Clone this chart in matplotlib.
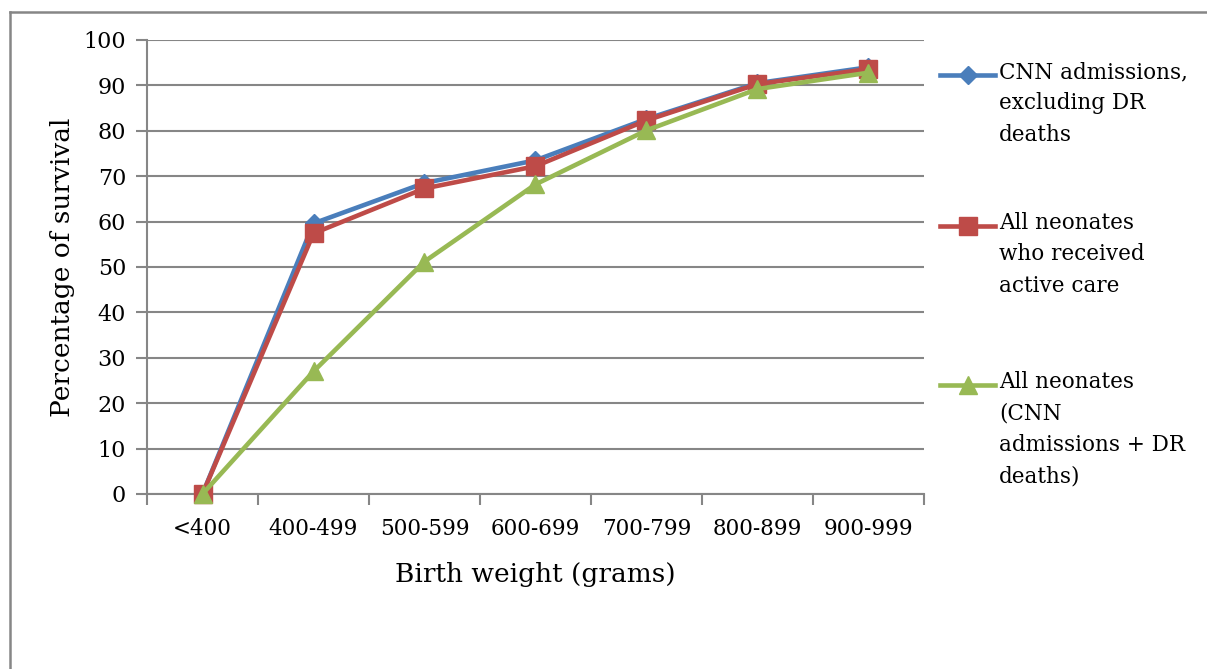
import matplotlib
matplotlib.use("Agg")
import matplotlib.pyplot as plt
from matplotlib.lines import Line2D

categories = ["<400", "400-499", "500-599", "600-699", "700-799", "800-899", "900-999"]
cnn_excl_dr = [0, 59.6, 68.5, 73.5, 82.6, 90.5, 94.0]
active_care = [0, 57.4, 67.3, 72.2, 82.3, 90.3, 93.6]
all_neonates = [0, 27.0, 51.2, 68.2, 80.1, 89.2, 92.8]
labels = ["CNN admissions,\nexcluding DR\ndeaths",
          "All neonates\nwho received\nactive care",
          "All neonates\n(CNN\nadmissions + DR\ndeaths)"]
colors = ["#4A7EBB", "#BE4B48", "#98B954"]
markers = ["D", "s", "^"]
msizes = [9, 13, 13]

plt.rcParams['font.family'] = ['DejaVu Serif']
fig = plt.figure(figsize=(12.07, 6.69), dpi=100)
W, H = 1207, 669
ax = fig.add_axes([147 / W, 1 - 494 / H, (924 - 147) / W, (494 - 40) / H])

x = list(range(len(categories)))
for i, (vals, c, m, ms) in enumerate(zip([cnn_excl_dr, active_care, all_neonates], colors, markers, msizes)):
    ax.plot(x, vals, color=c, lw=3.3, marker=m, markersize=ms, zorder=3 + i, clip_on=False)

ax.set_xlim(-0.5, len(categories) - 0.5)
ax.set_ylim(0, 100)
ax.set_yticks(range(0, 101, 10))
ax.set_xticks(x)
ax.set_xticklabels(categories)
ax.set_xticks([i - 0.5 for i in range(len(categories) + 1)], minor=True)
ax.tick_params(axis='x', which='major', length=0, pad=17, labelsize=15.5)
ax.tick_params(axis='x', which='minor', length=8, width=1.5, color='#868686', direction='out')
ax.tick_params(axis='y', length=8, width=1.5, color='#868686', direction='out', pad=7, labelsize=16)
ax.grid(axis='y', color='#868686', lw=1.5)
ax.set_axisbelow(True)
for s in ['top', 'right']:
    ax.spines[s].set_visible(False)
for s in ['left', 'bottom']:
    ax.spines[s].set_color('#868686')
    ax.spines[s].set_linewidth(1.5)

ax.set_xlabel("Birth weight (grams)", fontsize=19, labelpad=16)
ax.set_ylabel("Percentage of survival", fontsize=19, labelpad=6)

# legend drawn manually
leg_y = [75, 226, 385]
for yy, lab, c, m, ms in zip(leg_y, labels, colors, markers, msizes):
    fy = 1 - yy / H
    fig.add_artist(Line2D([940 / W, 995 / W], [fy, fy], color=c, lw=3.3, transform=fig.transFigure))
    fig.add_artist(Line2D([967.5 / W], [fy], color=c, marker=m, markersize=ms, transform=fig.transFigure))
    fig.text(999 / W, fy + 14 / H, lab, fontsize=15.5, va='top', ha='left', linespacing=1.55)

fig.add_artist(Line2D([10 / W, 10 / W], [0, 1 - 12 / H], color='#868686', lw=1.8, transform=fig.transFigure))
fig.add_artist(Line2D([10 / W, 1], [1 - 12 / H, 1 - 12 / H], color='#868686', lw=1.8, transform=fig.transFigure))

fig.savefig("out.png", dpi=100)
